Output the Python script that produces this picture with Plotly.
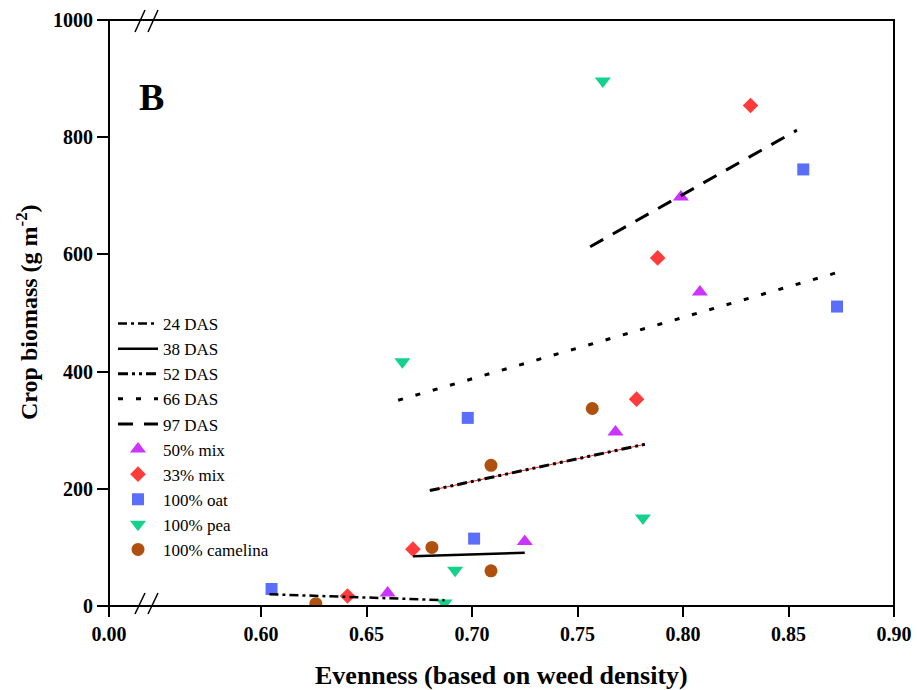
import plotly.graph_objects as go

# ---------------- data ----------------
mix50_x = [0.660, 0.725, 0.768, 0.799, 0.808]
mix50_y = [22, 110, 297, 698, 536]

mix33_x = [0.641, 0.672, 0.778, 0.788, 0.832]
mix33_y = [17, 97, 353, 594, 854]

oat_x = [0.605, 0.698, 0.701, 0.857, 0.873]
oat_y = [29, 321, 115, 745, 511]

pea_x = [0.687, 0.692, 0.667, 0.762, 0.781]
pea_y = [5, 61, 417, 896, 150]

cam_x = [0.626, 0.681, 0.709, 0.709, 0.757]
cam_y = [4, 100, 60, 240, 337]

das24_x = [0.604, 0.687]
das24_y = [20, 10]
das38_x = [0.672, 0.725]
das38_y = [85, 91]
das52_x = [0.680, 0.782]
das52_y = [197, 276]
das66_x = [0.665, 0.874]
das66_y = [351, 570]
das97_x = [0.756, 0.854]
das97_y = [613, 812]

y_ticks = [0, 200, 400, 600, 800, 1000]
x_ticks = [0.60, 0.65, 0.70, 0.75, 0.80, 0.85, 0.90]
x_break_tick = [0.0]

# ---------------- figure ----------------
W, H = 917, 690
L, R, T, B = 109, 894, 20, 606
SERIF = "Liberation Serif, Times New Roman, serif"

def px(x):
    return (x - L) / (R - L)

def py(y):
    return (B - y) / (B - T)

d = px(148)

fig = go.Figure()

# invisible trace for the left (broken) segment
fig.add_trace(go.Scatter(x=[0], y=[0], xaxis="x", yaxis="y", mode="markers",
                         marker=dict(opacity=0), showlegend=False, hoverinfo="skip"))

markers = [
    ("50% mix", mix50_x, mix50_y, "triangle-up", "#CC33FF", 14),
    ("33% mix", mix33_x, mix33_y, "diamond", "#FF3B3B", 12),
    ("100% oat", oat_x, oat_y, "square", "#5B6EFA", 12),
    ("100% pea", pea_x, pea_y, "triangle-down", "#14D28C", 14),
    ("100% camelina", cam_x, cam_y, "circle", "#B0500E", 13),
]
for i, (name, xs, ys, sym, col, sz) in enumerate(markers):
    fig.add_trace(go.Scatter(x=xs, y=ys, xaxis="x2", yaxis="y", mode="markers", name=name,
                             marker=dict(symbol=sym, color=col, size=sz, line=dict(width=0)),
                             legendrank=10 + i))

# thin red line under 52 DAS
fig.add_trace(go.Scatter(x=das52_x, y=das52_y, xaxis="x2", yaxis="y", mode="lines",
                         line=dict(color="#FF2020", width=1), showlegend=False))

lines = [
    ("24 DAS", das24_x, das24_y, "9px,4px,3px,4px", 2.5),
    ("38 DAS", das38_x, das38_y, "solid", 2.5),
    ("52 DAS", das52_x, das52_y, "10px,4px,3px,4px,3px,4px", 3),
    ("66 DAS", das66_x, das66_y, "5px,13px", 3),
    ("97 DAS", das97_x, das97_y, "15px,11px", 3),
]
for i, (name, xs, ys, dash, w) in enumerate(lines):
    fig.add_trace(go.Scatter(x=xs, y=ys, xaxis="x2", yaxis="y", mode="lines", name=name,
                             line=dict(color="black", width=w, dash=dash),
                             legendrank=1 + i))

tickfont = dict(family=SERIF, size=20, color="black", weight="bold")

shapes = [dict(type="rect", xref="paper", yref="paper", x0=0, x1=1, y0=0, y1=1,
               line=dict(color="black", width=2), layer="above")]
for (x0, y0, x1, y1) in [(135, 32, 145, 10), (148, 32, 158, 10),
                         (135, 614, 145, 593), (148, 614, 158, 593)]:
    shapes.append(dict(type="line", xref="paper", yref="paper",
                       x0=px(x0), y0=py(y0), x1=px(x1), y1=py(y1),
                       line=dict(color="black", width=1.5), layer="above"))

axis_common = dict(ticks="outside", tickwidth=2, tickcolor="black", showgrid=False,
                   zeroline=False, showline=False, automargin=False, tickfont=tickfont)

fig.update_layout(
    width=W, height=H,
    margin=dict(l=L, r=W - R, t=T, b=H - B, autoexpand=False),
    paper_bgcolor="white", plot_bgcolor="white",
    showlegend=True,
    xaxis=dict(domain=[0, d], range=[0, (148 - L) / 2110], tickvals=x_break_tick,
               ticktext=["0.00"], ticklen=10, anchor="y", **axis_common),
    xaxis2=dict(domain=[d, 1], range=[0.6 - (261 - 148) / 2110, 0.9], tickvals=x_ticks,
                ticktext=[f"{v:.2f}" for v in x_ticks], ticklen=10, anchor="y", **axis_common),
    yaxis=dict(range=[0, 1000], tickvals=y_ticks, ticklen=11, anchor="x", **axis_common),
    legend=dict(x=px(113), y=py(306), xanchor="left", yanchor="top",
                bgcolor="rgba(255,255,255,0)", font=dict(family=SERIF, size=17, color="black"),
                tracegroupgap=0, itemwidth=40),
    shapes=shapes,
    annotations=[
        dict(text="B", x=px(151), y=py(97), xref="paper", yref="paper", showarrow=False,
             xanchor="center", yanchor="middle",
             font=dict(family=SERIF, size=38, color="black", weight="bold")),
        dict(text="Evenness (based on weed density)", x=0.5, y=py(675), xref="paper",
             yref="paper", showarrow=False, xanchor="center", yanchor="middle",
             font=dict(family=SERIF, size=26, color="black", weight="bold")),
        dict(text="Crop biomass (g m<sup>-2</sup>)", x=px(27), y=py(312), xref="paper",
             yref="paper", showarrow=False, textangle=-90, xanchor="center", yanchor="middle",
             font=dict(family=SERIF, size=24, color="black", weight="bold")),
    ],
)

fig.write_html("out.html")
